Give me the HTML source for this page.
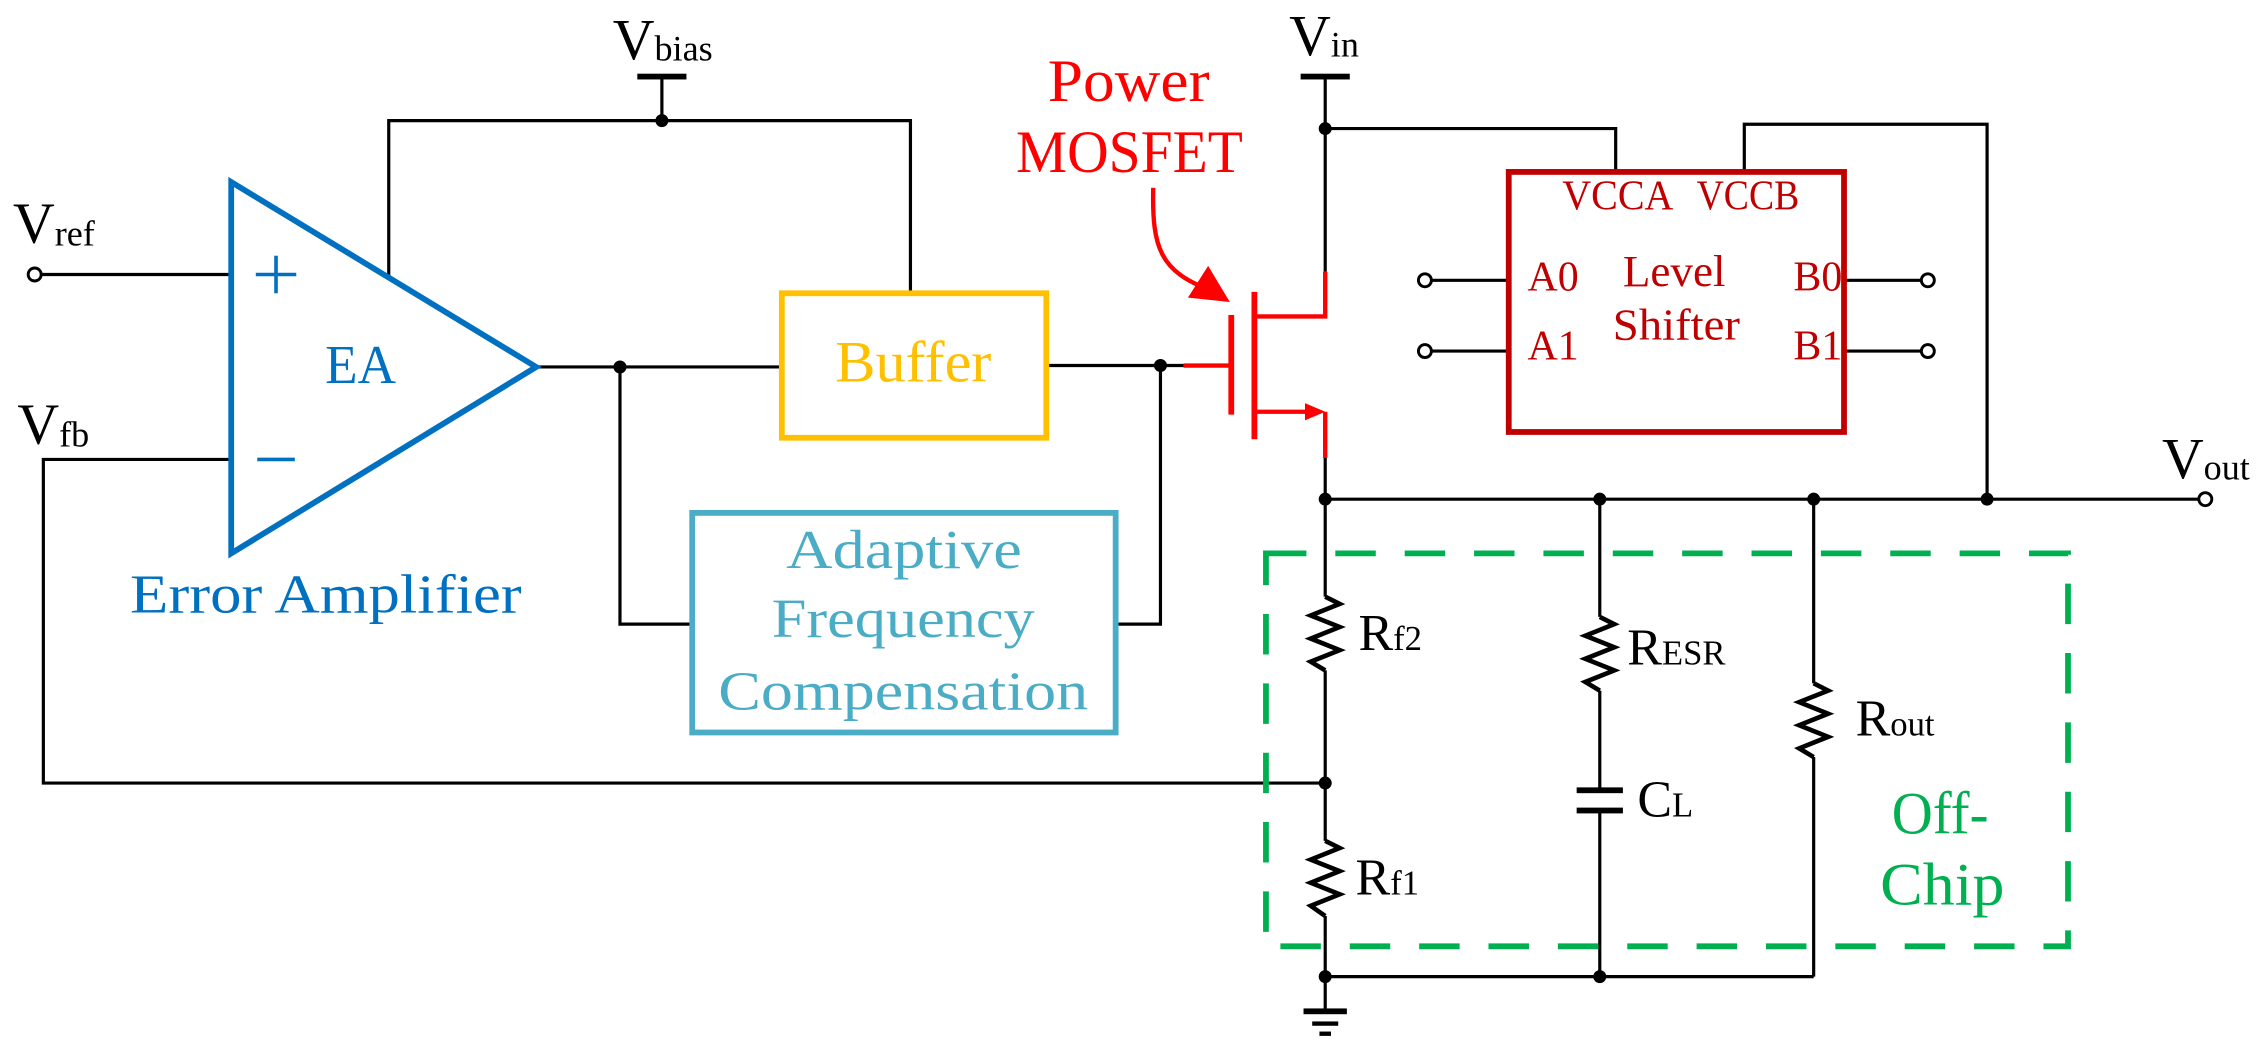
<!DOCTYPE html>
<html><head><meta charset="utf-8"><style>
html,body{margin:0;padding:0;background:#fff;}
svg{display:block;}
text{font-family:"Liberation Serif",serif;}
</style></head><body>
<svg width="2266" height="1059" viewBox="0 0 1568 733" preserveAspectRatio="none" xmlns="http://www.w3.org/2000/svg">
<rect width="1568" height="733" fill="#fff"/>
<g stroke="#000" stroke-width="2.2" fill="none">
<line x1="28" y1="190" x2="160" y2="190"/>
<polyline points="160,318 30,318 30,542 917,542"/>
<line x1="458" y1="53" x2="458" y2="83"/>
<polyline points="269,191 269,83.5 630,83.5 630,203"/>
<line x1="371" y1="254" x2="541" y2="254"/>
<polyline points="429,254 429,432 479,432"/>
<line x1="724" y1="253" x2="819" y2="253"/>
<polyline points="772,432 803,432 803,253"/>
<line x1="917" y1="53" x2="917" y2="188"/>
<polyline points="917,89 1118,89 1118,118"/>
<polyline points="1207,118 1207,86 1375,86 1375,345"/>
<line x1="917" y1="317" x2="917" y2="413"/>
<line x1="917" y1="345.5" x2="1521" y2="345.5"/>
<line x1="989" y1="194" x2="1043" y2="194"/>
<line x1="989" y1="243" x2="1043" y2="243"/>
<line x1="1277" y1="194" x2="1330" y2="194"/>
<line x1="1277" y1="243" x2="1330" y2="243"/>
<line x1="917" y1="464" x2="917" y2="582"/>
<line x1="917" y1="634" x2="917" y2="700"/>
<line x1="1107" y1="345" x2="1107" y2="427"/>
<line x1="1107" y1="478" x2="1107" y2="547"/>
<line x1="1107" y1="561" x2="1107" y2="676"/>
<line x1="1255" y1="345" x2="1255" y2="473"/>
<line x1="1255" y1="524" x2="1255" y2="676"/>
<line x1="917" y1="676" x2="1255" y2="676"/>
</g>
<g stroke="#000" stroke-width="3.2" fill="none" stroke-linejoin="miter">
<polyline points="917,413 927,418 907,426 927,434 907,442 927,450 907,458 917,464"/>
<polyline points="1107,427 1117,432 1097,440 1117,448 1097,456 1117,464 1097,472 1107,478"/>
<polyline points="1255,473 1265,478 1245,486 1265,494 1245,502 1265,510 1245,518 1255,524"/>
<polyline points="917,582 927,587 907,595 927,603 907,611 927,619 907,627 917,634"/>
</g>
<rect x="1091" y="545" width="32" height="4" fill="#000"/>
<rect x="1091" y="559" width="32" height="4" fill="#000"/>
<rect x="902" y="698" width="30" height="4" fill="#000"/>
<rect x="908" y="707" width="18" height="3" fill="#000"/>
<rect x="913" y="714" width="8" height="3" fill="#000"/>
<rect x="441" y="51" width="34" height="4" fill="#000"/>
<rect x="900" y="51" width="34" height="4" fill="#000"/>
<g fill="#000">
<circle cx="458" cy="83.5" r="4.5"/><circle cx="429" cy="254" r="4.5"/><circle cx="803" cy="253" r="4.5"/>
<circle cx="917" cy="89" r="4.5"/><circle cx="917" cy="345.5" r="4.5"/><circle cx="1107" cy="345.5" r="4.5"/>
<circle cx="1255" cy="345.5" r="4.5"/><circle cx="1375" cy="345.5" r="4.5"/><circle cx="917" cy="542" r="4.5"/>
<circle cx="917" cy="676" r="4.5"/><circle cx="1107" cy="676" r="4.5"/>
</g>
<g fill="#fff" stroke="#000" stroke-width="2">
<circle cx="24" cy="190" r="4.5"/><circle cx="986" cy="194" r="4.5"/><circle cx="986" cy="243" r="4.5"/>
<circle cx="1334" cy="194" r="4.5"/><circle cx="1334" cy="243" r="4.5"/><circle cx="1526" cy="345.5" r="4.5"/>
</g>
<polygon points="160,126 160,383 371,254" fill="none" stroke="#0070C0" stroke-width="4"/>
<line x1="177" y1="190" x2="205" y2="190" stroke="#0070C0" stroke-width="2.5"/>
<line x1="191" y1="177" x2="191" y2="203" stroke="#0070C0" stroke-width="2.5"/>
<line x1="178" y1="318" x2="204" y2="318" stroke="#0070C0" stroke-width="2.5"/>
<rect x="541" y="203" width="183" height="100" fill="none" stroke="#FFC000" stroke-width="4"/>
<rect x="479" y="355" width="293" height="152" fill="none" stroke="#4BACC6" stroke-width="4"/>
<rect x="1044" y="119" width="232" height="180" fill="none" stroke="#C00000" stroke-width="4"/>
<rect x="876" y="383" width="555" height="272" fill="none" stroke="#00B050" stroke-width="4" stroke-dasharray="28,20"/>
<g stroke="#FF0000" stroke-width="3" fill="none">
<line x1="819" y1="253" x2="852" y2="253"/>
<line x1="852" y1="218" x2="852" y2="287" stroke-width="4"/>
<line x1="868" y1="202" x2="868" y2="304" stroke-width="4"/>
<polyline points="868,219 917,219 917,188"/>
<line x1="868" y1="285" x2="905" y2="285"/>
<line x1="917" y1="285" x2="917" y2="317"/>
<path d="M798,130 C797,172 803,188 838,201"/>
</g>
<polygon points="917,285 903,279 903,291" fill="#FF0000"/>
<polygon points="851,209 822,206 836,184" fill="#FF0000"/>
<g fill="#000">
<text x="9" y="168" font-size="40">V<tspan font-size="25" dy="2">ref</tspan></text>
<text x="12" y="307" font-size="40">V<tspan font-size="25" dy="2">fb</tspan></text>
<text x="424" y="41" font-size="40">V<tspan font-size="25" dy="1">bias</tspan></text>
<text x="892" y="38" font-size="40">V<tspan font-size="25" dy="1">in</tspan></text>
<text x="1496" y="331" font-size="40">V<tspan font-size="25" dy="1">out</tspan></text>
<text x="940" y="450" font-size="36">R<tspan font-size="24">f2</tspan></text>
<text x="1126" y="460" font-size="36">R<tspan font-size="24">ESR</tspan></text>
<text x="1284" y="509" font-size="36">R<tspan font-size="24">out</tspan></text>
<text x="1133" y="565" font-size="36">C<tspan font-size="24">L</tspan></text>
<text x="938" y="619" font-size="36">R<tspan font-size="24">f1</tspan></text>
</g>
<g fill="#0070C0">
<text x="225" y="265" font-size="38" textLength="49" lengthAdjust="spacingAndGlyphs">EA</text>
<text x="90" y="424" font-size="38" textLength="271" lengthAdjust="spacingAndGlyphs">Error Amplifier</text>
</g>
<text x="578" y="264" font-size="40" fill="#FFC000" textLength="108" lengthAdjust="spacingAndGlyphs">Buffer</text>
<g fill="#4BACC6" font-size="38">
<text x="544" y="393" textLength="163" lengthAdjust="spacingAndGlyphs">Adaptive</text>
<text x="534" y="441" textLength="182" lengthAdjust="spacingAndGlyphs">Frequency</text>
<text x="497" y="491" textLength="256" lengthAdjust="spacingAndGlyphs">Compensation</text>
</g>
<g fill="#FF0000" font-size="42">
<text x="725" y="70" textLength="112" lengthAdjust="spacingAndGlyphs">Power</text>
<text x="703" y="119" textLength="157" lengthAdjust="spacingAndGlyphs">MOSFET</text>
</g>
<g fill="#C00000" font-size="29">
<text x="1081" y="145" textLength="77" lengthAdjust="spacingAndGlyphs">VCCA</text>
<text x="1174" y="145" textLength="71" lengthAdjust="spacingAndGlyphs">VCCB</text>
<text x="1057" y="201">A0</text>
<text x="1057" y="249">A1</text>
<text x="1241" y="201">B0</text>
<text x="1241" y="249">B1</text>
<text x="1123" y="198" font-size="31" textLength="71" lengthAdjust="spacingAndGlyphs">Level</text>
<text x="1116" y="235" font-size="31" textLength="88" lengthAdjust="spacingAndGlyphs">Shifter</text>
</g>
<g fill="#00B050" font-size="42">
<text x="1309" y="577" textLength="67" lengthAdjust="spacingAndGlyphs">Off-</text>
<text x="1301" y="626" textLength="86" lengthAdjust="spacingAndGlyphs">Chip</text>
</g>
</svg>
</body></html>
